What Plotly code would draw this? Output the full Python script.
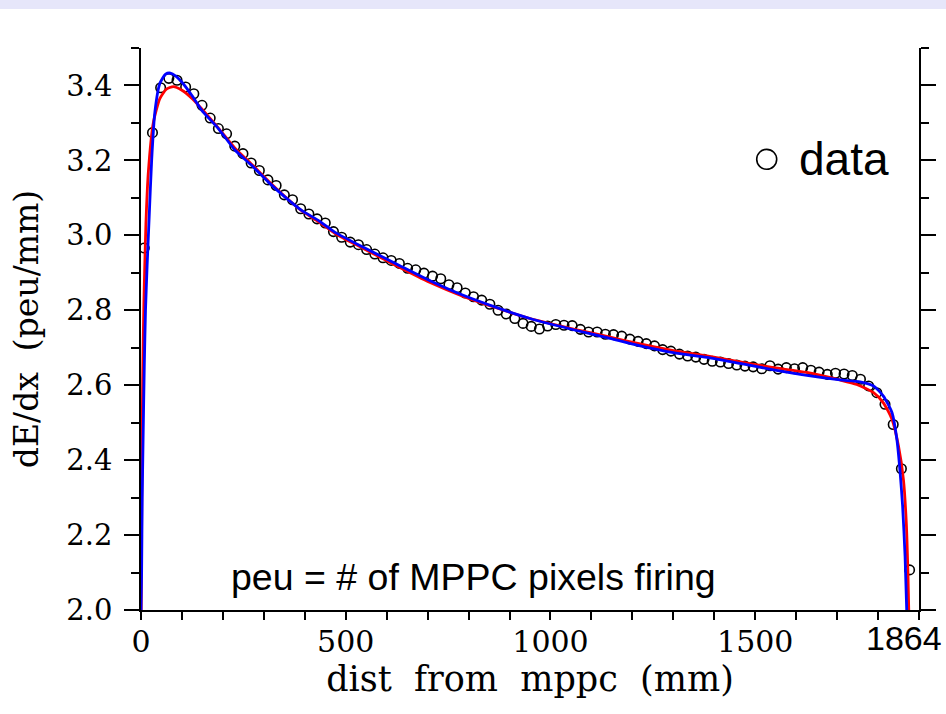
import plotly.graph_objects as go

# measured points (dist from mppc in mm, dE/dx in peu/mm)
dist_mm = [8, 28, 48, 68, 88, 109, 129, 149, 169, 189,
           209, 229, 249, 269, 289, 310, 330, 350, 370, 390,
           410, 430, 450, 470, 490, 511, 531, 551, 571, 591,
           611, 631, 651, 671, 691, 712, 732, 752, 772, 792,
           812, 832, 852, 872, 892, 913, 933, 953, 973, 993,
           1013, 1033, 1053, 1073, 1093, 1114, 1134, 1154, 1174, 1194,
           1214, 1234, 1254, 1274, 1294, 1315, 1335, 1355, 1375, 1395,
           1415, 1435, 1455, 1475, 1495, 1516, 1536, 1556, 1576, 1596,
           1616, 1636, 1656, 1676, 1696, 1717, 1737, 1757, 1777, 1797,
           1817, 1837, 1857, 1877]
dedx = [2.966, 3.274, 3.394, 3.419, 3.414, 3.396, 3.378, 3.347, 3.313, 3.285,
        3.271, 3.238, 3.218, 3.193, 3.173, 3.148, 3.133, 3.108, 3.095, 3.071,
        3.057, 3.044, 3.033, 3.010, 2.995, 2.982, 2.975, 2.962, 2.950, 2.940,
        2.933, 2.925, 2.912, 2.908, 2.899, 2.891, 2.884, 2.868, 2.860, 2.846,
        2.836, 2.827, 2.816, 2.800, 2.790, 2.778, 2.765, 2.757, 2.750, 2.758,
        2.762, 2.760, 2.759, 2.749, 2.742, 2.742, 2.736, 2.735, 2.731, 2.723,
        2.717, 2.711, 2.705, 2.695, 2.691, 2.683, 2.678, 2.675, 2.669, 2.664,
        2.662, 2.658, 2.654, 2.651, 2.649, 2.644, 2.652, 2.643, 2.647, 2.644,
        2.647, 2.640, 2.635, 2.629, 2.632, 2.630, 2.626, 2.616, 2.598, 2.580,
        2.549, 2.495, 2.377, 2.107]

# red fit
red_x = [0.5, 2, 4, 7, 12, 18, 30, 46, 62, 79, 99, 124, 148, 189, 230, 270,
         311, 352, 393, 433, 474, 543, 625, 706, 787, 869, 950, 1056, 1138,
         1219, 1300, 1382, 1463, 1545, 1626, 1707, 1748, 1789, 1813, 1834,
         1850, 1862, 1869, 1873, 1875]
red_y = [2.0, 2.34, 2.61, 2.82, 3.03, 3.17, 3.30, 3.365, 3.39, 3.397, 3.388,
         3.366, 3.338, 3.286, 3.232, 3.19, 3.145, 3.103, 3.065, 3.037, 3.005,
         2.965, 2.918, 2.874, 2.837, 2.806, 2.778, 2.75, 2.73, 2.71, 2.692,
         2.678, 2.662, 2.647, 2.634, 2.614, 2.602, 2.58, 2.553, 2.509, 2.437,
         2.348, 2.232, 2.098, 2.0]

# blue fit
blue_x = [0, 1.5, 3, 5, 8, 11, 15, 20, 26, 34, 46, 60, 72, 85, 99, 124, 148,
          189, 230, 270, 311, 352, 393, 433, 474, 543, 625, 706, 787, 869,
          950, 1056, 1138, 1219, 1300, 1382, 1463, 1545, 1626, 1707, 1756,
          1789, 1813, 1834, 1846, 1854, 1860, 1866, 1870]
blue_y = [2.0, 2.1, 2.3, 2.45, 2.65, 2.8, 2.92, 3.05, 3.2, 3.33, 3.405, 3.43,
          3.433, 3.425, 3.41, 3.374, 3.334, 3.285, 3.227, 3.187, 3.142, 3.102,
          3.066, 3.04, 3.008, 2.968, 2.923, 2.879, 2.84, 2.807, 2.778, 2.748,
          2.727, 2.705, 2.687, 2.674, 2.658, 2.641, 2.626, 2.614, 2.609, 2.598,
          2.571, 2.527, 2.455, 2.366, 2.277, 2.143, 2.0]

x_ticks = [0, 500, 1000, 1500]
y_ticks = [2.0, 2.2, 2.4, 2.6, 2.8, 3.0, 3.2, 3.4]

SERIF = "DejaVu Serif"
SANS = "Liberation Sans, Arial"

fig = go.Figure()
fig.add_trace(go.Scatter(x=dist_mm, y=dedx, mode="markers", name="data",
                         marker=dict(symbol="circle-open", size=9.5, color="black",
                                     line=dict(width=1.6, color="black")),
                         showlegend=False))
fig.add_trace(go.Scatter(x=red_x, y=red_y, mode="lines", showlegend=False,
                         line=dict(color="#ff0000", width=2.8, shape="spline",
                                   smoothing=0.6)))
fig.add_trace(go.Scatter(x=blue_x, y=blue_y, mode="lines", showlegend=False,
                         line=dict(color="#0000ff", width=2.8, shape="spline",
                                   smoothing=0.6)))

axis_common = dict(showline=True, linecolor="black", linewidth=1.5,
                   showgrid=False, zeroline=False, ticks="outside",
                   tickcolor="black", tickwidth=1.5, automargin=False)

fig.update_layout(
    width=946, height=714,
    margin=dict(l=141, r=27, t=48, b=104),
    paper_bgcolor="white", plot_bgcolor="white",
    xaxis=dict(axis_common, range=[0, 1900], tickvals=x_ticks, ticklen=8,
               ticklabelstandoff=-4,
               minor=dict(dtick=100, ticklen=8, tickcolor="black", ticks="outside",
                          tickwidth=1.5),
               tickfont=dict(family=SERIF, size=30, color="black"),
               title=dict(text="dist  from  mppc  (mm)", standoff=0,
                          font=dict(family=SERIF, size=35, color="black"))),
    xaxis2=dict(axis_common, range=[0, 1900], overlaying="x", side="top",
                anchor="y", tickvals=x_ticks, ticklen=15, showticklabels=False,
                minor=dict(dtick=100, ticklen=9, tickcolor="black", ticks="outside",
                           tickwidth=1.5)),
    yaxis=dict(axis_common, range=[2.0, 3.5], tickvals=y_ticks, ticklen=15,
               mirror="ticks", tickformat=".1f", ticklabelstandoff=6,
               minor=dict(dtick=0.1, ticklen=8, tickcolor="black", ticks="outside",
                          tickwidth=1.5),
               tickfont=dict(family=SERIF, size=29, color="black"),
               title=dict(text="dE/dx  (peu/mm)", standoff=18,
                          font=dict(family=SERIF, size=33, color="black"))),
)

# thin lavender band at the very top of the page
fig.add_shape(type="rect", xref="paper", yref="paper",
              x0=-0.2, x1=1.1, y0=1 + 39 / 562, y1=1 + 48 / 562,
              fillcolor="#e6e6fa", line=dict(width=0), layer="below")

# legend entry: open circle + label
fig.add_shape(type="circle", xref="paper", yref="paper",
              x0=0.7914, x1=0.8171, y0=0.7842, y1=0.8197,
              line=dict(color="black", width=1.6), fillcolor="rgba(0,0,0,0)")
fig.add_annotation(text="data", xref="paper", yref="paper", x=0.843, y=0.8025,
                   xanchor="left", yanchor="middle", showarrow=False,
                   font=dict(family=SANS, size=46, color="black"))
fig.add_annotation(text="peu = # of MPPC pixels firing", xref="paper", yref="paper",
                   x=0.427, y=0.059, yanchor="middle", showarrow=False,
                   font=dict(family=SANS, size=37.5, color="black"))
fig.add_annotation(text="1864", xref="x", yref="paper", x=1864, y=-0.012,
                   yanchor="top", showarrow=False,
                   font=dict(family=SANS, size=34, color="black"))

# page without the default body margin so the figure fills the window
fig.write_html("out.html", config={"displayModeBar": False},
               post_script="document.body.style.margin='0';")
